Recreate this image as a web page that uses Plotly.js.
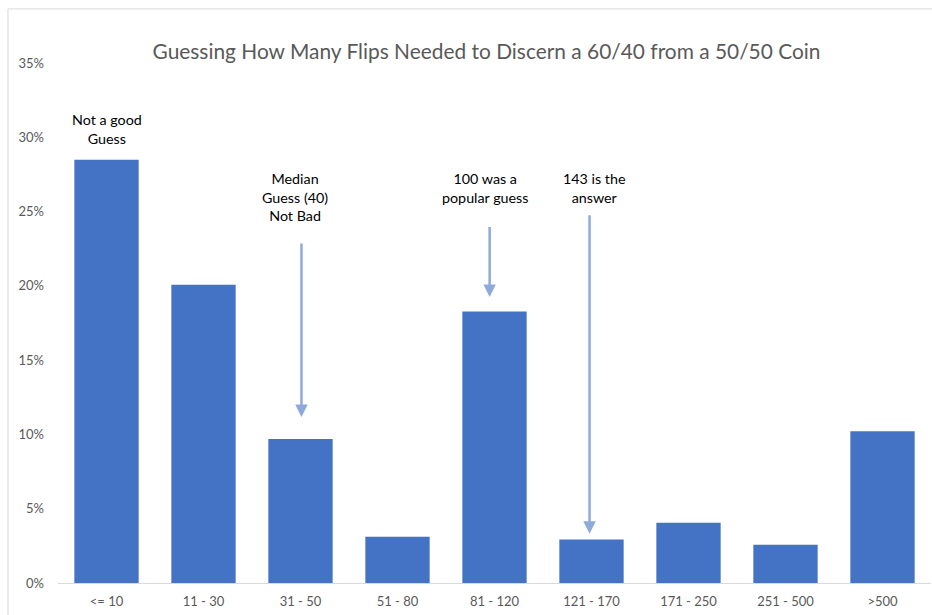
<!DOCTYPE html>
<html>
<head>
<meta charset="utf-8">
<script src="https://cdn.plot.ly/plotly-3.0.1.min.js"></script>
<style>
  html, body { margin: 0; padding: 0; background: #ffffff; }
  #chart { width: 932px; height: 615px; }
</style>
</head>
<body>
<div id="chart"></div>
<script>
// ---- Data ----
const categories = ["<= 10", "11 - 30", "31 - 50", "51 - 80", "81 - 120", "121 - 170", "171 - 250", "251 - 500", ">500"];
const shares = [0.2849, 0.2008, 0.0969, 0.0312, 0.1828, 0.0292, 0.0406, 0.0258, 0.1021];
const yTickValues = [0, 0.05, 0.10, 0.15, 0.20, 0.25, 0.30, 0.35];
const yTickLabels = ["0%", "5%", "10%", "15%", "20%", "25%", "30%", "35%"];
const chartTitle = "Guessing How Many Flips Needed to Discern a 60/40 from a 50/50 Coin";

const FONT = "Lato, 'Open Sans', sans-serif";
const GREY = "#595959";
const ARROW = "#8eaadb";

const trace = {
  type: "bar",
  x: categories,
  y: shares,
  marker: { color: "#4472c4", line: { width: 0 } },
  hoverinfo: "x+y"
};

function note(text, x, y) {
  return {
    text: text, x: x, y: y, xref: "x", yref: "y",
    showarrow: false, xanchor: "center", yanchor: "middle",
    align: "center",
    font: { family: FONT, size: 14.3, color: "#000000" }
  };
}
function arrow(x, yTail, yTip) {
  return {
    text: "", x: x, y: yTip, ax: x, ay: yTail,
    xref: "x", yref: "y", axref: "x", ayref: "y",
    showarrow: true, arrowhead: 2, arrowsize: 1, arrowwidth: 2.5,
    arrowcolor: ARROW, standoff: 0, startstandoff: 0
  };
}

const layout = {
  width: 932, height: 615,
  margin: { l: 58, r: 1, t: 63, b: 32, pad: 0 },
  paper_bgcolor: "#ffffff",
  plot_bgcolor: "#ffffff",
  showlegend: false,
  bargap: 0.337,
  font: { family: FONT, color: GREY, size: 13 },
  title: {
    text: chartTitle,
    font: { family: FONT, size: 20.9, color: GREY },
    xref: "container", x: 0.522, xanchor: "center",
    yref: "container", y: 0.9154, yanchor: "middle"
  },
  xaxis: {
    type: "category",
    showgrid: false, zeroline: false,
    showline: true, linecolor: "#d9d9d9", linewidth: 1,
    ticks: "", ticklabelstandoff: 6,
    tickfont: { family: FONT, size: 13, color: GREY },
    fixedrange: true
  },
  yaxis: {
    range: [0, 0.35],
    tickvals: yTickValues, ticktext: yTickLabels,
    showgrid: false, zeroline: false, showline: false,
    ticks: "", ticklabelstandoff: 13,
    tickfont: { family: FONT, size: 13, color: GREY },
    fixedrange: true
  },
  shapes: [
    { type: "line", xref: "paper", yref: "paper", x0: -0.0573, x1: -0.0573, y0: 1.104, y1: -0.07,
      line: { color: "#d9d9d9", width: 1 } },
    { type: "line", xref: "paper", yref: "paper", x0: -0.0573, x1: 1.01, y0: 1.104, y1: 1.104,
      line: { color: "#d9d9d9", width: 1 } }
  ],
  annotations: [
    note("Not a good<br>Guess", 0, 0.3055),
    note("Median<br>Guess (40)<br>Not Bad", 1.94, 0.26),
    note("100 was a<br>popular guess", 3.90, 0.266),
    note("143 is the<br>answer", 5.03, 0.266),
    arrow(2.01, 0.2295, 0.1117),
    arrow(3.95, 0.2407, 0.1925),
    arrow(4.98, 0.2486, 0.0332)
  ]
};

Plotly.newPlot("chart", [trace], layout, { displayModeBar: false, staticPlot: true });
</script>
</body>
</html>
